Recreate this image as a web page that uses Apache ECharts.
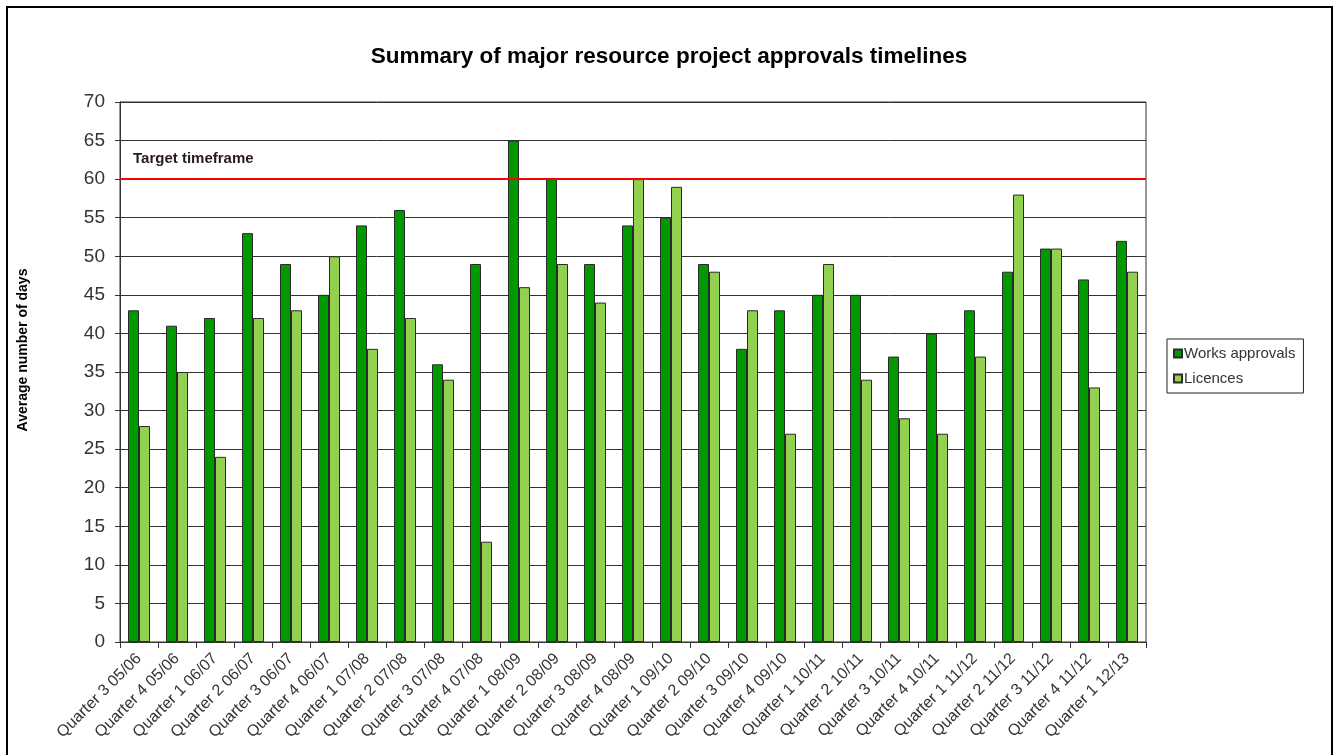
<!DOCTYPE html>
<html>
<head>
<meta charset="utf-8">
<script src="https://cdn.jsdelivr.net/npm/echarts@6/dist/echarts.min.js"></script>
<style>
  body { margin: 0; background: #fff; }
  #chart { width: 1338px; height: 755px; }
</style>
</head>
<body>
<div id="chart"></div>
<script>
// quarters shown on the x axis
var categories = [
  'Quarter 3 05/06', 'Quarter 4 05/06', 'Quarter 1 06/07', 'Quarter 2 06/07',
  'Quarter 3 06/07', 'Quarter 4 06/07', 'Quarter 1 07/08', 'Quarter 2 07/08',
  'Quarter 3 07/08', 'Quarter 4 07/08', 'Quarter 1 08/09', 'Quarter 2 08/09',
  'Quarter 3 08/09', 'Quarter 4 08/09', 'Quarter 1 09/10', 'Quarter 2 09/10',
  'Quarter 3 09/10', 'Quarter 4 09/10', 'Quarter 1 10/11', 'Quarter 2 10/11',
  'Quarter 3 10/11', 'Quarter 4 10/11', 'Quarter 1 11/12', 'Quarter 2 11/12',
  'Quarter 3 11/12', 'Quarter 4 11/12', 'Quarter 1 12/13'
];
var worksApprovals = [43, 41, 42, 53, 49, 45, 54, 56, 36, 49, 65, 60, 49, 54, 55, 49, 38, 43, 45, 45, 37, 40, 43, 48, 51, 47, 52];
var licences = [28, 35, 24, 42, 43, 50, 38, 42, 34, 13, 46, 49, 44, 60, 59, 48, 43, 27, 49, 34, 29, 27, 37, 58, 51, 33, 48];
var targetDays = 60;

var chartDom = document.getElementById('chart');
var myChart = echarts.init(chartDom);
var font = 'Liberation Sans, Arial, sans-serif';

var option = {
  animation: false,
  textStyle: { fontFamily: font },
  title: {
    text: 'Summary of major resource project approvals timelines',
    left: 'center',
    top: 40,
    textStyle: { fontSize: 22.5, fontWeight: 'bold', color: '#000', fontFamily: font }
  },
  legend: {
    orient: 'vertical',
    left: 1167,
    top: 339,
    padding: [7, 8, 7, 6],
    itemGap: 10,
    itemWidth: 8,
    itemHeight: 8,
    icon: 'rect',
    borderColor: '#222',
    borderWidth: 1,
    textStyle: { fontSize: 15, color: '#333', fontFamily: font, padding: [0, 0, 0, -3] }
  },
  grid: {
    left: 120, top: 102, width: 1026, height: 540,
    show: true, borderColor: '#333', borderWidth: 1
  },
  graphic: [{
    type: 'rect',
    shape: { x: 7, y: 7, width: 1325, height: 800 },
    style: { fill: 'none', stroke: '#000', lineWidth: 2 },
    silent: true
  }],
  xAxis: {
    type: 'category',
    data: categories,
    axisLine: { lineStyle: { color: '#333' } },
    axisTick: { show: true, length: 6, lineStyle: { color: '#333' } },
    axisLabel: { rotate: 45, fontSize: 16, color: '#333', margin: 14, interval: 0, fontFamily: font }
  },
  yAxis: {
    type: 'value',
    min: 0, max: 70, interval: 5,
    name: 'Average number of days',
    nameLocation: 'middle',
    nameGap: 90,
    nameTextStyle: { fontSize: 14, fontWeight: 'bold', color: '#000', fontFamily: font, padding: [0, 0, 0, 44] },
    axisLine: { show: true, lineStyle: { color: '#333' } },
    axisTick: { show: true, length: 5, lineStyle: { color: '#333' } },
    axisLabel: { fontSize: 19, color: '#333', margin: 15, fontFamily: font },
    splitLine: { lineStyle: { color: '#333', width: 1 } }
  },
  series: [
    {
      name: 'Works approvals',
      type: 'bar',
      data: worksApprovals,
      barWidth: 11,
      barGap: '0%',
      itemStyle: { color: '#009900', borderColor: '#2a2a2a', borderWidth: 1 },
      markLine: {
        silent: true,
        symbol: 'none',
        data: [{ yAxis: targetDays }],
        lineStyle: { color: '#ff0000', width: 2, type: 'solid' },
        label: {
          show: true,
          position: 'insideStartTop',
          formatter: 'Target timeframe',
          distance: [13, 13],
          fontSize: 15,
          fontWeight: 'bold',
          color: '#2a1a1a',
          fontFamily: font
        }
      }
    },
    {
      name: 'Licences',
      type: 'bar',
      data: licences,
      barWidth: 11,
      itemStyle: { color: '#92d050', borderColor: '#2a2a2a', borderWidth: 1 }
    }
  ]
};

option && myChart.setOption(option);
</script>
</body>
</html>
